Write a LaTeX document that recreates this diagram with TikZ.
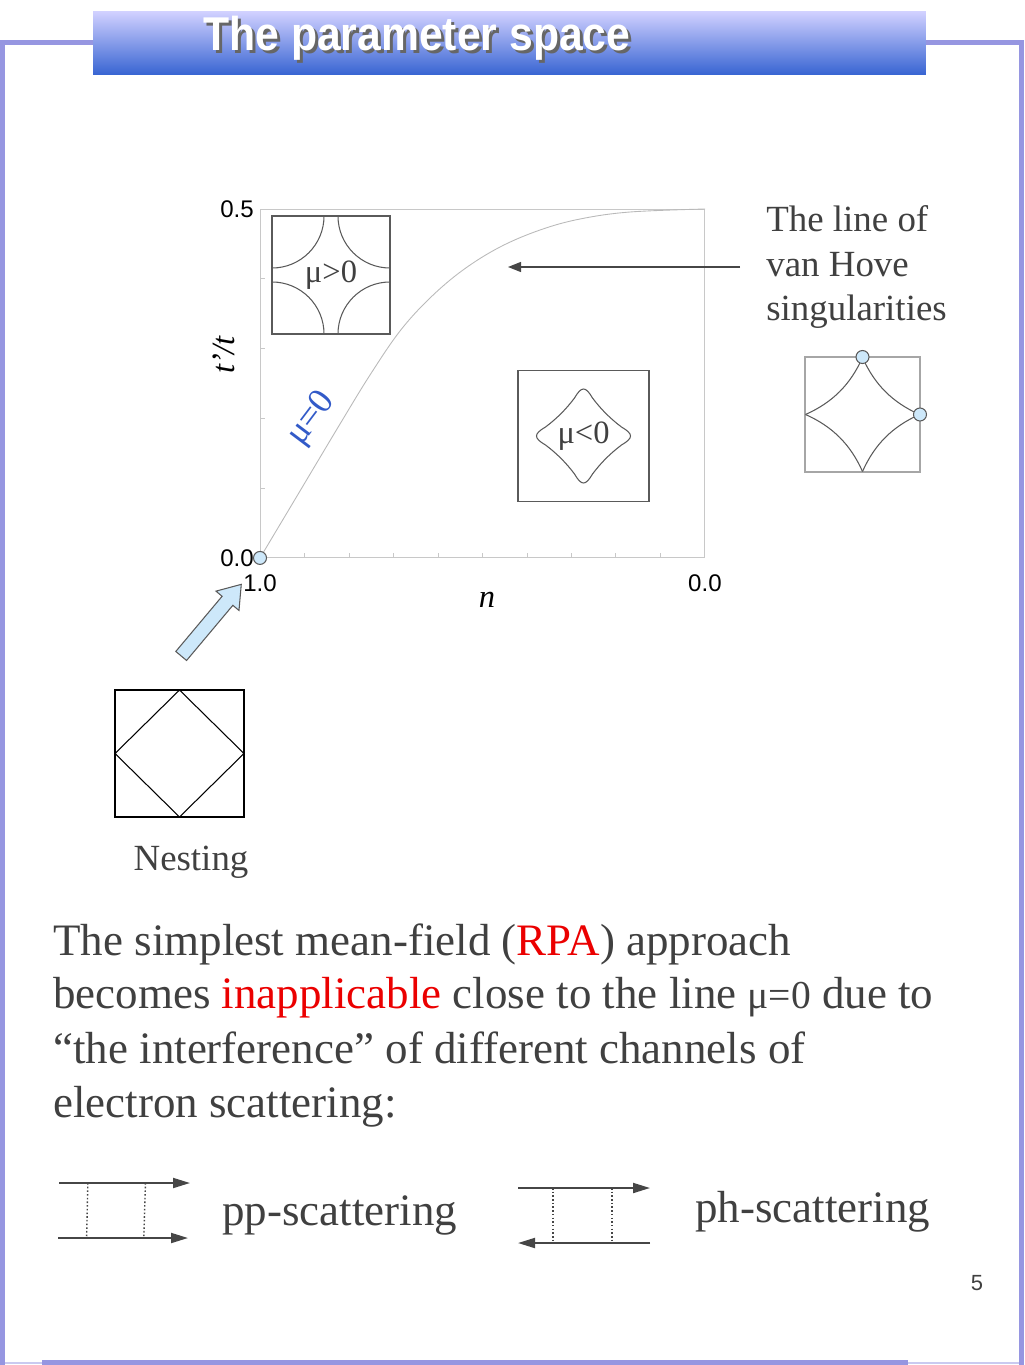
\documentclass[tikz,border=0pt]{standalone}
\usepackage{fontspec}
\usepackage{graphicx}
\setmainfont{Liberation Serif}
\setsansfont{Liberation Sans}
\usetikzlibrary{positioning,shapes.arrows,arrows.meta,calc}

\definecolor{framec}{RGB}{150,150,225}
\definecolor{titletop}{RGB}{208,208,255}
\definecolor{titlemid}{RGB}{150,160,235}
\definecolor{titlebot}{RGB}{55,100,210}
\definecolor{textc}{RGB}{64,64,64}
\definecolor{mublue}{RGB}{50,90,200}
\definecolor{rpared}{RGB}{235,0,0}
\definecolor{dotc}{RGB}{205,232,250}
\definecolor{axisc}{RGB}{200,200,200}
\definecolor{curvec}{RGB}{185,185,185}
\definecolor{boxc}{RGB}{90,90,90}
\definecolor{arrowc}{RGB}{70,70,70}

\tikzset{
  framebar/.style={framec, line width=0.1cm},
  inset/.style={draw=boxc, line width=0.6pt, minimum size=#1, inner sep=0pt, outer sep=0pt,
    text=textc, font=\fontsize{18.5}{20}\selectfont},
  fermi/.style={boxc, line width=0.6pt},
  axistick/.style={axisc, line width=0.5pt},
  ticklabel/.style={font=\sffamily\fontsize{13.7}{16}\selectfont},
  axislabel/.style={font=\itshape\fontsize{18.5}{20}\selectfont},
  vhdot/.style={circle, draw=boxc, fill=dotc, line width=0.6pt, minimum size=0.26cm, inner sep=0pt},
  captext/.style={text=textc, inner sep=0pt, font=\fontsize{21}{25.6}\selectfont},
  body/.style={text=textc, anchor=base west, inner sep=0pt, font=\fontsize{25.6}{30}\selectfont},
  propline/.style={arrowc, line width=1.1pt, -{Triangle[length=0.34cm,width=0.2cm]}},
  rung/.style={arrowc, line width=0.8pt, dash pattern=on 0.9pt off 1.2pt},
  titletext/.style={anchor=base west, inner sep=0pt, font=\sffamily\bfseries\fontsize{27}{30}\selectfont}
}

\begin{document}
\begin{tikzpicture}[x=0.02cm, y=-0.02cm]
  \useasboundingbox (0,0) rectangle (1024,1365);

  % slide frame
  \draw[framec!50, line width=0.6pt] (0,1363) -- (1024,1363);
  \draw[framebar] (0,43) -- (93,43);
  \draw[framebar] (926,43) -- (1024,43);
  \draw[framebar] (2.5,43) -- (2.5,1365);
  \draw[framebar] (1021.5,43) -- (1021.5,1365);
  \draw[framebar] (42,1362) -- (908,1362);

  % title
  \node[top color=titletop, middle color=titlemid, bottom color=titlebot, minimum width=16.66cm,
    minimum height=1.26cm, inner sep=0pt, outer sep=0pt, anchor=north west] (titlebar) at (93,12) {};
  \node[titletext, text=gray!80!black] (titleshadow) at (206,54) {\scalebox{0.9}[1]{The parameter space}};
  \node[titletext, text=white] (title) at (203,51) {\scalebox{0.9}[1]{The parameter space}};

  % phase diagram
  \node[draw=axisc, line width=0.5pt, minimum width=8.9cm, minimum height=6.98cm, inner sep=0pt,
    outer sep=0pt, anchor=north west] (plotbox) at (260,209) {};
  \foreach \i in {1,...,9}
    \draw[axistick] ($(plotbox.south west)!\i/10!(plotbox.south east)$) -- ++(0,-5);
  \foreach \i in {1,...,4}
    \draw[axistick] ($(plotbox.south west)!\i/5!(plotbox.north west)$) -- ++(5,0);
  \node[ticklabel, anchor=east] (ytop) at (plotbox.north west) {0.5};
  \node[ticklabel, anchor=east] (ybot) at (plotbox.south west) {0.0};
  \node[ticklabel] (xleft) at ([yshift=-0.5cm]plotbox.south west) {1.0};
  \node[ticklabel] (xright) at ([yshift=-0.5cm]plotbox.south east) {0.0};
  \node[axislabel, rotate=90] (ylabel) at (224,355) {t'/t};
  \node[axislabel] (xlabel) at (487,600) {n};

  \draw[curvec, line width=0.5pt] plot[smooth, tension=0.6] coordinates {(260,558) (300,491) (340,424)
    (370,375) (400,331) (430,298) (463,270) (500,247) (540,230) (580,219) (630,212) (705,209)};
  \node[text=mublue, rotate=53, font=\fontsize{20.5}{22}\selectfont] (muzero) at (312,419) {μ=0};
  \node[vhdot] (origin) at (plotbox.south west) {};

  % Fermi surface insets
  \node[inset=2.36cm] (fsplus) at (331,275) {μ>0};
  \begin{scope}
    \clip (fsplus.south west) rectangle (fsplus.north east);
    \foreach \c in {north west, north east, south west, south east}
      \draw[fermi] (fsplus.\c) circle[radius=52];
  \end{scope}

  \node[inset=2.62cm] (fsminus) at (583.5,436) {μ<0};
  \begin{scope}[shift={(fsminus.center)}]
    \foreach \a in {0,90,180,270}
      \draw[fermi, rotate=\a] (-9,-38) .. controls (-2,-50) and (2,-50) .. (9,-38)
        .. controls (17.3,-26.9) and (26.9,-17.3) .. (38,-9);
  \end{scope}

  \node[inset=2.3cm, draw=gray!70] (vhbox) at (862.5,414.5) {};
  \begin{scope}[shift={(vhbox.center)}]
    \foreach \a in {0,90,180,270}
      \draw[fermi, rotate=\a] (0,-57) .. controls (12,-30) and (30,-12) .. (57,0);
  \end{scope}
  \node[vhdot] (vhtop) at (vhbox.north) {};
  \node[vhdot] (vhright) at (vhbox.east) {};

  \node[captext, align=left, anchor=west] (vhtext) at (766,267) {The line of\\van Hove\\singularities};
  \coordinate (vhtip) at (508,267);
  \draw[arrowc, line width=0.8pt, -{Triangle[length=0.26cm,width=0.2cm]}] ([xshift=-0.52cm]vhtext.west) -- (vhtip);

  % nesting
  \node[draw=black, line width=0.6pt, minimum width=2.58cm, minimum height=2.54cm, inner sep=0pt,
    outer sep=0pt] (nestbox) at (179.5,753.5) {};
  \draw[black, line width=0.6pt] (nestbox.north) -- (nestbox.east) -- (nestbox.south) -- (nestbox.west) -- cycle;
  \node[captext, anchor=base] (nestlabel) at (191,870) {Nesting};
  \node[single arrow, draw=boxc, fill=dotc, line width=0.6pt, rotate=50, minimum height=1.87cm,
    text height=0.13cm, text depth=0.13cm, single arrow head extend=0.16cm, single arrow tip angle=70,
    inner sep=0pt] (nestarrow) at (208,624) {};

  % text
  \node[body] (line1) at (53,955) {The simplest mean-field (\textcolor{rpared}{RPA}) approach};
  \node[body] (line2) at (53,1008) {becomes \textcolor{rpared}{inapplicable} close to the line {\fontsize{22.5}{24}\selectfont μ=0} due to};
  \node[body] (line3) at (53,1063) {“the interference” of different channels of};
  \node[body] (line4) at (53,1117) {electron scattering:};

  % scattering channels
  \coordinate (ppin1) at (59,1183);
  \coordinate (ppout1) at (190,1183);
  \coordinate (ppin2) at (58,1238);
  \coordinate (ppout2) at (188,1238);
  \draw[propline] (ppin1) -- (ppout1);
  \draw[propline] (ppin2) -- (ppout2);
  \foreach \f in {0.22,0.66}
    \draw[rung] ($(ppin1)!\f!(ppout1)$) -- ($(ppin2)!\f!(ppout2)$);
  \node[body] (pplabel) at (222,1225) {pp-scattering};

  \coordinate (phin1) at (518,1188);
  \coordinate (phout1) at (650,1188);
  \coordinate (phin2) at (650,1243);
  \coordinate (phout2) at (518,1243);
  \draw[propline] (phin1) -- (phout1);
  \draw[propline] (phin2) -- (phout2);
  \foreach \f in {0.265,0.712}
    \draw[rung] ($(phin1)!\f!(phout1)$) -- ($(phout2)!\f!(phin2)$);
  \node[body] (phlabel) at (695,1222) {ph-scattering};

  \node[text=textc, font=\sffamily\fontsize{12.5}{14}\selectfont] (pagenum) at (977,1283) {5};
\end{tikzpicture}
\end{document}
